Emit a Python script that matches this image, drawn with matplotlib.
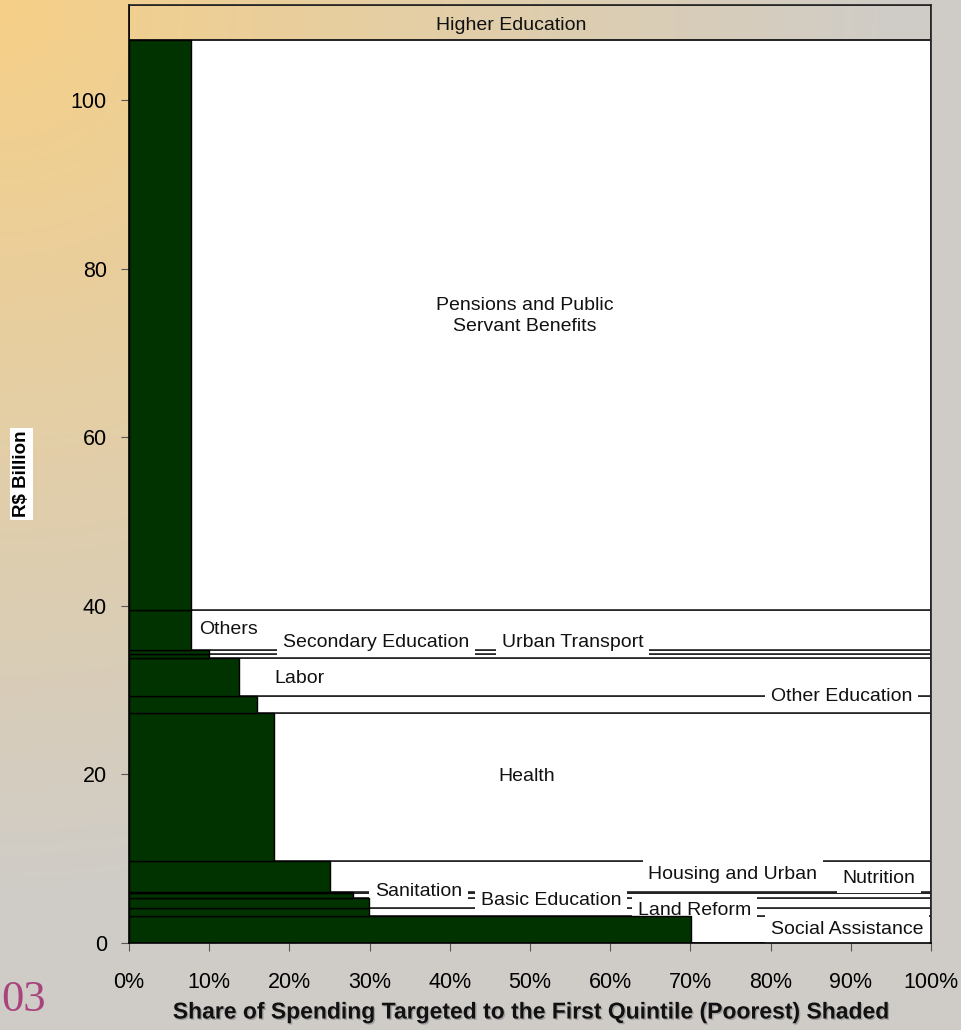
import numpy as np
import matplotlib
matplotlib.use("Agg")
import matplotlib.pyplot as plt
import matplotlib.patheffects as pe
from matplotlib.patches import Rectangle

plt.rcParams["font.family"] = ["Liberation Sans", "DejaVu Sans"]

# ---------------------------------------------------------------------------
# DATA  (bands stacked bottom -> top; height = R$ billion, shade = share
#        of spending reaching the first quintile, %)
# ---------------------------------------------------------------------------
PROGRAMS = ["Social Assistance", "Land Reform", "Basic Education", "Sanitation",
            "Nutrition", "Housing and Urban", "Health", "Other Education",
            "Labor", "Urban Transport", "Secondary Education", "Others",
            "Pensions and Public\nServant Benefits", "Higher Education"]
SPENDING_BN = [3.2, 1.0, 1.15, 0.55, 0.1, 3.75, 17.55, 2.0,
               4.5, 0.55, 0.47, 4.68, 67.6, 4.2]
SHARE_Q1 = [70.1, 29.9, 29.9, 27.9, 27.9, 25.0, 18.1, 16.0,
            13.7, 10.0, 10.0, 7.7, 7.7, 0.0]

X_TICKS = list(range(0, 101, 10))
Y_TICKS = list(range(0, 101, 20))

# label anchor (x in %, y in R$ bn) for each band, same order as PROGRAMS
LABEL_XY = [(89.5, 1.65), (70.5, 3.8), (52.6, 5.1), (36.1, 6.15),
            (93.5, 7.6), (75.3, 8.1), (49.6, 19.7), (88.9, 29.2),
            (21.3, 31.4), (55.3, 35.6), (30.8, 35.6), (12.4, 37.2),
            (49.4, 74.4), (47.7, 108.9)]

W, H = 961, 1030
DARK = "#003300"
EDGE = "#222222"


def background():
    """Warm radial wash from the top-left corner fading into grey."""
    yy, xx = np.mgrid[0:H, 0:W]
    t = np.clip(np.hypot(xx, yy) / 900.0, 0, 1)[..., None]
    c0 = np.array([246, 208, 135]) / 255
    c1 = np.array([207, 204, 200]) / 255
    return c0 * (1 - t) + c1 * t


fig = plt.figure(figsize=(W / 100, H / 100), dpi=100)
bg = fig.add_axes([0, 0, 1, 1], zorder=-5)
bg.imshow(background(), aspect="auto", interpolation="bilinear")
bg.axis("off")

ax = fig.add_axes([129 / W, 87 / H, 802 / W, 938 / H])
ax.set_facecolor("none")

bottoms = np.concatenate([[0], np.cumsum(SPENDING_BN)[:-1]])
top = float(np.sum(SPENDING_BN))

# white bands (z1) < label boxes (z2) < shaded share (z3) < axis frame (z4)
for name, b, h, s, (lx, ly) in zip(PROGRAMS, bottoms, SPENDING_BN, SHARE_Q1, LABEL_XY):
    ax.add_patch(Rectangle((0, b), 100, h, facecolor="white" if s > 0 else "none",
                           edgecolor=EDGE, lw=1.2, zorder=1))
    if s > 0:
        ax.add_patch(Rectangle((0, b), s, h, facecolor=DARK, edgecolor="black",
                               lw=1.0, zorder=3))
    box = dict(boxstyle="square,pad=0.3", fc="white", ec="none") if s > 0 else None
    ax.text(lx, ly, name, ha="center", va="center", fontsize=14, color="#111",
            bbox=box, zorder=2, linespacing=1.25)

ax.set_xlim(0, 100)
ax.set_ylim(0, top)
ax.set_xticks(X_TICKS)
ax.set_xticklabels([f"{v}%" for v in X_TICKS])
ax.set_yticks(Y_TICKS)
ax.tick_params(axis="x", direction="out", length=6, color="#555", labelsize=15.5, pad=15)
ax.tick_params(axis="y", direction="out", length=6, color="#555", labelsize=15.5, pad=10)
for sp in ax.spines.values():
    sp.set_color(EDGE)
    sp.set_linewidth(1.2)
    sp.set_zorder(4)
ax.spines["left"].set_color("black")
ax.spines["bottom"].set_color("black")

fig.text(21.5 / W, 1 - 474 / H, "R$ Billion", rotation=90, ha="center", va="center",
         fontsize=13.5, fontweight="bold",
         bbox=dict(boxstyle="square,pad=0.15", fc="white", ec="none"))

fig.text(530 / W, 1 - 1012 / H,
         "Share of Spending Targeted to the First Quintile (Poorest) Shaded",
         ha="center", va="center", fontsize=16.5, fontweight="bold", color="#111",
         path_effects=[pe.withSimplePatchShadow(offset=(1, -1), shadow_rgbFace="#777", alpha=0.5)])

fig.text(1 / W, 1 - 1000 / H, "03", ha="left", va="center", fontsize=32,
         family="Liberation Serif", color="#a8447c")

fig.savefig("out.png", dpi=100)
